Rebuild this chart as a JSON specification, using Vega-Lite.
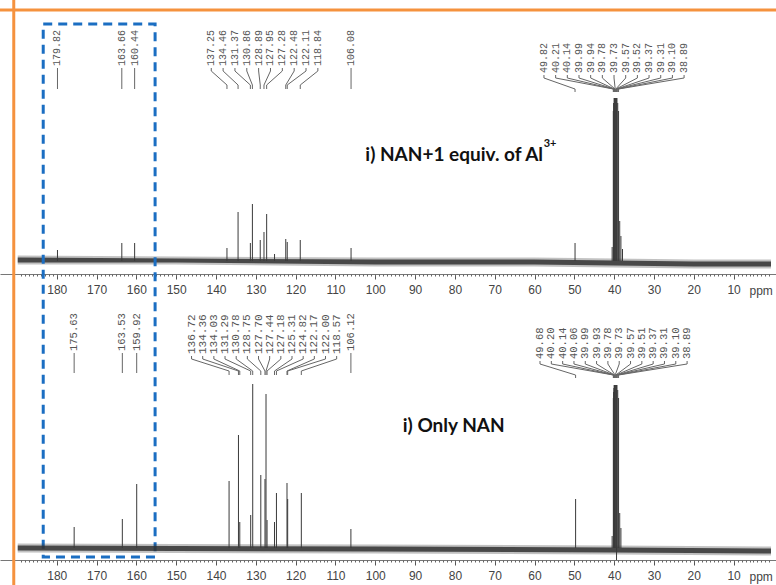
{
"$schema": "https://vega.github.io/schema/vega-lite/v6.json",
"width": 776, "height": 585, "padding": 0, "autosize": {"type": "none"},
"background": "white",
"config": {"view": {"stroke": null}},
"datasets": {
 "top": [
  {"ppm":179.82,"h":11,"g":"s"},{"ppm":163.66,"h":18,"g":"s"},{"ppm":160.44,"h":18,"g":"s"},
  {"ppm":137.25,"h":13,"g":"a"},{"ppm":134.46,"h":49,"g":"a"},{"ppm":131.37,"h":18,"g":"a"},{"ppm":130.86,"h":57,"g":"a"},
  {"ppm":128.89,"h":21,"g":"a"},{"ppm":127.95,"h":29,"g":"a"},{"ppm":127.28,"h":47,"g":"a"},{"ppm":122.48,"h":22,"g":"a"},
  {"ppm":122.11,"h":19,"g":"a"},{"ppm":118.84,"h":21,"g":"a"},{"ppm":106.08,"h":13,"g":"s"},
  {"ppm":49.82,"h":18,"g":"d"},{"ppm":40.21,"h":150,"g":"d"},{"ppm":40.14,"h":158,"g":"d"},{"ppm":39.99,"h":163,"g":"d"},
  {"ppm":39.94,"h":163,"g":"d"},{"ppm":39.78,"h":163,"g":"d"},{"ppm":39.73,"h":163,"g":"d"},{"ppm":39.57,"h":163,"g":"d"},
  {"ppm":39.52,"h":163,"g":"d"},{"ppm":39.37,"h":163,"g":"d"},{"ppm":39.31,"h":163,"g":"d"},{"ppm":39.10,"h":158,"g":"d"},
  {"ppm":38.89,"h":150,"g":"d"},
  {"ppm":125.3,"h":7,"g":"n"},{"ppm":40.5,"h":14,"g":"n"},{"ppm":38.6,"h":40,"g":"n"},{"ppm":38.3,"h":25,"g":"n"},{"ppm":37.9,"h":12,"g":"n"}
 ],
 "bot": [
  {"ppm":175.63,"h":21,"g":"s"},{"ppm":163.53,"h":29,"g":"s"},{"ppm":159.92,"h":64,"g":"s"},
  {"ppm":136.72,"h":67,"g":"a"},{"ppm":134.36,"h":113,"g":"a"},{"ppm":134.03,"h":26,"g":"a"},{"ppm":131.29,"h":33,"g":"a"},
  {"ppm":130.78,"h":164,"g":"a"},{"ppm":128.75,"h":73,"g":"a"},{"ppm":127.70,"h":69,"g":"a"},{"ppm":127.44,"h":154,"g":"a"},
  {"ppm":127.18,"h":28,"g":"a"},{"ppm":125.31,"h":26,"g":"a"},{"ppm":124.82,"h":55,"g":"a"},{"ppm":122.17,"h":65,"g":"a"},
  {"ppm":122.00,"h":49,"g":"a"},{"ppm":118.57,"h":55,"g":"a"},{"ppm":106.12,"h":19,"g":"s"},
  {"ppm":49.68,"h":49,"g":"d"},{"ppm":40.20,"h":150,"g":"d"},{"ppm":40.14,"h":156,"g":"d"},{"ppm":40.06,"h":160,"g":"d"},
  {"ppm":39.99,"h":163,"g":"d"},{"ppm":39.93,"h":163,"g":"d"},{"ppm":39.78,"h":163,"g":"d"},{"ppm":39.73,"h":163,"g":"d"},
  {"ppm":39.57,"h":163,"g":"d"},{"ppm":39.51,"h":163,"g":"d"},{"ppm":39.37,"h":163,"g":"d"},{"ppm":39.31,"h":163,"g":"d"},
  {"ppm":39.10,"h":158,"g":"d"},{"ppm":38.89,"h":150,"g":"d"},
  {"ppm":39.4,"h":-12,"g":"n"},{"ppm":40.5,"h":12,"g":"n"},{"ppm":38.6,"h":35,"g":"n"},{"ppm":38.3,"h":20,"g":"n"}
 ],
 "noiseTop": [
  {"ppm":189.8,"lo":-1.5,"hi":3.5,"lo2":-3.5,"hi2":5.5},{"ppm":150,"lo":-1.5,"hi":2.5,"lo2":-3.5,"hi2":4.5},
  {"ppm":100,"lo":-3.5,"hi":1.5,"lo2":-5.5,"hi2":3.5},{"ppm":60,"lo":-3.5,"hi":1.5,"lo2":-5.5,"hi2":3.5},
  {"ppm":20,"lo":-5.5,"hi":-0.5,"lo2":-7.5,"hi2":1.5},{"ppm":0.6,"lo":-5.5,"hi":-0.5,"lo2":-7.5,"hi2":1.5}
 ],
 "noiseBot": [
  {"ppm":189.8,"lo":-2.5,"hi":2.5,"lo2":-4.5,"hi2":4.5},{"ppm":100,"lo":-3.5,"hi":1.5,"lo2":-5.5,"hi2":3.5},
  {"ppm":40,"lo":-4.5,"hi":0.5,"lo2":-6.5,"hi2":2.5},{"ppm":0.6,"lo":-5.5,"hi":-0.5,"lo2":-7.5,"hi2":1.5}
 ],
 "box": [{"from":183.4,"to":155.3,"top":237,"bottom":-296}]
},
"layer": [
 {"resolve": {"axis": {"x": "independent"}},
  "layer": [
  {"data": {"name": "noiseTop"}, "mark": {"type": "area", "color": "#333", "opacity": 0.3},
   "encoding": {
    "x": {"field": "ppm", "type": "quantitative", "scale": {"domain": [0.6, 193], "reverse": true, "nice": false, "zero": false},
      "axis": {"orient": "bottom", "offset": -311, "domain": true, "domainColor": "#777", "grid": false,
        "values": [10,20,30,40,50,60,70,80,90,100,110,120,130,140,150,160,170,180],
        "tickSize": 5, "tickColor": "#555",
        "labelOverlap": false, "labelFlush": false, "labelBound": false,
        "labelFont": "Liberation Sans", "labelFontSize": 12, "labelColor": "#444", "labelPadding": 10, "labelBaseline": "middle",
        "title": "ppm", "titleX": 749, "titleY": 16, "titleAlign": "left", "titleBaseline": "middle", "titleAngle": 0,
        "titleFont": "Liberation Sans", "titleFontSize": 12, "titleFontWeight": "normal", "titleColor": "#444"}},
    "y": {"field": "lo2", "type": "quantitative", "scale": {"domain": [-324, 261], "nice": false, "zero": false}, "axis": null},
    "y2": {"field": "hi2"}}},
  {"data": {"name": "noiseTop"}, "mark": {"type": "area", "color": "#333", "opacity": 0.85},
   "encoding": {
    "x": {"field": "ppm", "type": "quantitative", "scale": {"domain": [0.6, 193], "reverse": true, "nice": false, "zero": false},
      "axis": {"orient": "bottom", "offset": -311, "domain": false, "grid": false, "labels": false, "title": null,
        "values": [1,2,3,4,5,6,7,8,9,10,11,12,13,14,15,16,17,18,19,20,21,22,23,24,25,26,27,28,29,30,31,32,33,34,35,36,37,38,39,40,41,42,43,44,45,46,47,48,49,50,51,52,53,54,55,56,57,58,59,60,61,62,63,64,65,66,67,68,69,70,71,72,73,74,75,76,77,78,79,80,81,82,83,84,85,86,87,88,89,90,91,92,93,94,95,96,97,98,99,100,101,102,103,104,105,106,107,108,109,110,111,112,113,114,115,116,117,118,119,120,121,122,123,124,125,126,127,128,129,130,131,132,133,134,135,136,137,138,139,140,141,142,143,144,145,146,147,148,149,150,151,152,153,154,155,156,157,158,159,160,161,162,163,164,165,166,167,168,169,170,171,172,173,174,175,176,177,178,179,180,181,182,183,184,185,186,187,188,189],
        "tickSize": 2, "tickColor": "#666"}},
    "y": {"field": "lo", "type": "quantitative", "scale": {"domain": [-324, 261], "nice": false, "zero": false}, "axis": null},
    "y2": {"field": "hi"}}},
  {"data": {"name": "top"}, "mark": {"type": "bar", "color": "#3a3a3a", "width": 1, "orient": "vertical"},
   "encoding": {
    "x": {"field": "ppm", "type": "quantitative", "stack": null, "scale": {"domain": [0.6, 193], "reverse": true, "nice": false, "zero": false}, "axis": null},
    "y": {"field": "h", "type": "quantitative", "stack": null, "scale": {"domain": [-324, 261], "nice": false, "zero": false}, "axis": null}}},
  {"data": {"name": "top"},
   "transform": [
    {"filter": "datum.g !== 'n'"},
    {"window": [{"op": "row_number", "as": "idx"}], "groupby": ["g"], "sort": [{"field": "ppm", "order": "descending"}]},
    {"calculate": "datum.g === 'a' ? 144.17 - datum.idx * 2.9755 : datum.g === 'd' ? 60.56 - datum.idx * 2.933 : datum.ppm", "as": "lx"},
    {"calculate": "datum.g === 'd' ? 188 : 195", "as": "t"},
    {"calculate": "datum.g === 'd' ? 186 : 193", "as": "ya"},
    {"calculate": "datum.g === 'd' ? 183 : 190", "as": "yb"},
    {"calculate": "datum.g === 'd' ? 172 : 176", "as": "yc"},
    {"calculate": "datum.g === 'd' ? 169 : 172", "as": "yd"}
   ],
   "layer": [
    {"mark": {"type": "text", "angle": 270, "align": "left", "baseline": "middle", "font": "Liberation Mono", "fontSize": 10, "color": "#555"},
     "encoding": {
      "x": {"field": "lx", "type": "quantitative", "scale": {"domain": [0.6, 193], "reverse": true, "nice": false, "zero": false}, "axis": null},
      "y": {"field": "t", "type": "quantitative", "scale": {"domain": [-324, 261], "nice": false, "zero": false}, "axis": null},
      "text": {"field": "ppm", "type": "quantitative", "format": ".2f"}}},
    {"mark": {"type": "rule", "color": "#666", "strokeWidth": 1},
     "encoding": {
      "x": {"field": "lx", "type": "quantitative", "scale": {"domain": [0.6, 193], "reverse": true, "nice": false, "zero": false}, "axis": null},
      "y": {"field": "ya", "type": "quantitative", "scale": {"domain": [-324, 261], "nice": false, "zero": false}, "axis": null},
      "y2": {"field": "yb"}}},
    {"mark": {"type": "rule", "color": "#666", "strokeWidth": 1},
     "encoding": {
      "x": {"field": "lx", "type": "quantitative", "scale": {"domain": [0.6, 193], "reverse": true, "nice": false, "zero": false}, "axis": null},
      "x2": {"field": "ppm"},
      "y": {"field": "yb", "type": "quantitative", "scale": {"domain": [-324, 261], "nice": false, "zero": false}, "axis": null},
      "y2": {"field": "yc"}}},
    {"mark": {"type": "rule", "color": "#666", "strokeWidth": 1},
     "encoding": {
      "x": {"field": "ppm", "type": "quantitative", "scale": {"domain": [0.6, 193], "reverse": true, "nice": false, "zero": false}, "axis": null},
      "y": {"field": "yc", "type": "quantitative", "scale": {"domain": [-324, 261], "nice": false, "zero": false}, "axis": null},
      "y2": {"field": "yd"}}}
   ]},
  {"data": {"values": [{}]}, "mark": {"type": "text", "font": "Lato", "fontWeight": "bold", "fontSize": 19, "align": "left", "baseline": "middle", "color": "#111"},
   "encoding": {
    "x": {"datum": 102.5, "type": "quantitative", "scale": {"domain": [0.6, 193], "reverse": true, "nice": false, "zero": false}, "axis": null},
    "y": {"datum": 106, "type": "quantitative", "scale": {"domain": [-324, 261], "nice": false, "zero": false}, "axis": null},
    "text": {"value": "i) NAN+1 equiv. of Al"}}},
  {"data": {"values": [{}]}, "mark": {"type": "text", "font": "Lato", "fontWeight": "bold", "fontSize": 11, "align": "left", "baseline": "middle", "color": "#111"},
   "encoding": {
    "x": {"datum": 57.7, "type": "quantitative", "scale": {"domain": [0.6, 193], "reverse": true, "nice": false, "zero": false}, "axis": null},
    "y": {"datum": 117, "type": "quantitative", "scale": {"domain": [-324, 261], "nice": false, "zero": false}, "axis": null},
    "text": {"value": "3+"}}},
  {"data": {"values": [{}]}, "mark": {"type": "rule", "color": "#f5923e", "strokeWidth": 3},
   "encoding": {
    "y": {"datum": 251, "type": "quantitative", "scale": {"domain": [-324, 261], "nice": false, "zero": false}, "axis": null}}},
  {"data": {"values": [{}]}, "mark": {"type": "rule", "color": "#f5923e", "strokeWidth": 3},
   "encoding": {
    "x": {"datum": 190.8, "type": "quantitative", "scale": {"domain": [0.6, 193], "reverse": true, "nice": false, "zero": false}, "axis": null}}},
  {"data": {"name": "box"}, "mark": {"type": "rect", "fillOpacity": 0, "stroke": "#1b6ec2", "strokeWidth": 3, "strokeDash": [9, 6]},
   "encoding": {
    "x": {"field": "from", "type": "quantitative", "scale": {"domain": [0.6, 193], "reverse": true, "nice": false, "zero": false}, "axis": null},
    "x2": {"field": "to"},
    "y": {"field": "top", "type": "quantitative", "scale": {"domain": [-324, 261], "nice": false, "zero": false}, "axis": null},
    "y2": {"field": "bottom"}}}
 ]},
 {"resolve": {"axis": {"x": "independent"}},
  "layer": [
  {"data": {"name": "noiseBot"}, "mark": {"type": "area", "color": "#333", "opacity": 0.3},
   "encoding": {
    "x": {"field": "ppm", "type": "quantitative", "scale": {"domain": [0.6, 193], "reverse": true, "nice": false, "zero": false},
      "axis": {"orient": "bottom", "offset": -25, "domain": true, "domainColor": "#777", "grid": false,
        "values": [10,20,30,40,50,60,70,80,90,100,110,120,130,140,150,160,170,180],
        "tickSize": 5, "tickColor": "#555",
        "labelOverlap": false, "labelFlush": false, "labelBound": false,
        "labelFont": "Liberation Sans", "labelFontSize": 12, "labelColor": "#444", "labelPadding": 10, "labelBaseline": "middle",
        "title": "ppm", "titleX": 749, "titleY": 16, "titleAlign": "left", "titleBaseline": "middle", "titleAngle": 0,
        "titleFont": "Liberation Sans", "titleFontSize": 12, "titleFontWeight": "normal", "titleColor": "#444"}},
    "y": {"field": "lo2", "type": "quantitative", "scale": {"domain": [-37, 548], "nice": false, "zero": false}, "axis": null},
    "y2": {"field": "hi2"}}},
  {"data": {"name": "noiseBot"}, "mark": {"type": "area", "color": "#333", "opacity": 0.85},
   "encoding": {
    "x": {"field": "ppm", "type": "quantitative", "scale": {"domain": [0.6, 193], "reverse": true, "nice": false, "zero": false},
      "axis": {"orient": "bottom", "offset": -25, "domain": false, "grid": false, "labels": false, "title": null,
        "values": [1,2,3,4,5,6,7,8,9,10,11,12,13,14,15,16,17,18,19,20,21,22,23,24,25,26,27,28,29,30,31,32,33,34,35,36,37,38,39,40,41,42,43,44,45,46,47,48,49,50,51,52,53,54,55,56,57,58,59,60,61,62,63,64,65,66,67,68,69,70,71,72,73,74,75,76,77,78,79,80,81,82,83,84,85,86,87,88,89,90,91,92,93,94,95,96,97,98,99,100,101,102,103,104,105,106,107,108,109,110,111,112,113,114,115,116,117,118,119,120,121,122,123,124,125,126,127,128,129,130,131,132,133,134,135,136,137,138,139,140,141,142,143,144,145,146,147,148,149,150,151,152,153,154,155,156,157,158,159,160,161,162,163,164,165,166,167,168,169,170,171,172,173,174,175,176,177,178,179,180,181,182,183,184,185,186,187,188,189],
        "tickSize": 2, "tickColor": "#666"}},
    "y": {"field": "lo", "type": "quantitative", "scale": {"domain": [-37, 548], "nice": false, "zero": false}, "axis": null},
    "y2": {"field": "hi"}}},
  {"data": {"name": "bot"}, "mark": {"type": "bar", "color": "#3a3a3a", "width": 1, "orient": "vertical"},
   "encoding": {
    "x": {"field": "ppm", "type": "quantitative", "stack": null, "scale": {"domain": [0.6, 193], "reverse": true, "nice": false, "zero": false}, "axis": null},
    "y": {"field": "h", "type": "quantitative", "stack": null, "scale": {"domain": [-37, 548], "nice": false, "zero": false}, "axis": null}}},
  {"data": {"name": "bot"},
   "transform": [
    {"filter": "datum.g !== 'n'"},
    {"window": [{"op": "row_number", "as": "idx"}], "groupby": ["g"], "sort": [{"field": "ppm", "order": "descending"}]},
    {"calculate": "datum.g === 'a' ? 148.95 - datum.idx * 2.804 : datum.g === 'd' ? 61.46 - datum.idx * 2.842 : datum.ppm", "as": "lx"},
    {"calculate": "datum.g === 'd' ? 189 : datum.g === 'a' ? 194 : 197", "as": "t"},
    {"calculate": "datum.g === 'd' ? 187 : datum.g === 'a' ? 192 : 195", "as": "ya"},
    {"calculate": "datum.g === 'd' ? 184 : datum.g === 'a' ? 189 : 191", "as": "yb"},
    {"calculate": "datum.g === 'd' ? 173 : datum.g === 'a' ? 177 : 180", "as": "yc"},
    {"calculate": "datum.g === 'd' ? 170 : datum.g === 'a' ? 173 : 175", "as": "yd"}
   ],
   "layer": [
    {"mark": {"type": "text", "angle": 270, "align": "left", "baseline": "middle", "font": "Liberation Mono", "color": "#555"},
     "encoding": {
      "x": {"field": "lx", "type": "quantitative", "scale": {"domain": [0.6, 193], "reverse": true, "nice": false, "zero": false}, "axis": null},
      "y": {"field": "t", "type": "quantitative", "scale": {"domain": [-37, 548], "nice": false, "zero": false}, "axis": null},
      "size": {"condition": {"test": "datum.g === 'a'", "value": 11}, "value": 10.5},
      "text": {"field": "ppm", "type": "quantitative", "format": ".2f"}}},
    {"mark": {"type": "rule", "color": "#666", "strokeWidth": 1},
     "encoding": {
      "x": {"field": "lx", "type": "quantitative", "scale": {"domain": [0.6, 193], "reverse": true, "nice": false, "zero": false}, "axis": null},
      "y": {"field": "ya", "type": "quantitative", "scale": {"domain": [-37, 548], "nice": false, "zero": false}, "axis": null},
      "y2": {"field": "yb"}}},
    {"mark": {"type": "rule", "color": "#666", "strokeWidth": 1},
     "encoding": {
      "x": {"field": "lx", "type": "quantitative", "scale": {"domain": [0.6, 193], "reverse": true, "nice": false, "zero": false}, "axis": null},
      "x2": {"field": "ppm"},
      "y": {"field": "yb", "type": "quantitative", "scale": {"domain": [-37, 548], "nice": false, "zero": false}, "axis": null},
      "y2": {"field": "yc"}}},
    {"mark": {"type": "rule", "color": "#666", "strokeWidth": 1},
     "encoding": {
      "x": {"field": "ppm", "type": "quantitative", "scale": {"domain": [0.6, 193], "reverse": true, "nice": false, "zero": false}, "axis": null},
      "y": {"field": "yc", "type": "quantitative", "scale": {"domain": [-37, 548], "nice": false, "zero": false}, "axis": null},
      "y2": {"field": "yd"}}}
   ]},
  {"data": {"values": [{}]}, "mark": {"type": "text", "font": "Lato", "fontWeight": "bold", "fontSize": 19, "align": "left", "baseline": "middle", "color": "#111"},
   "encoding": {
    "x": {"datum": 93.1, "type": "quantitative", "scale": {"domain": [0.6, 193], "reverse": true, "nice": false, "zero": false}, "axis": null},
    "y": {"datum": 122, "type": "quantitative", "scale": {"domain": [-37, 548], "nice": false, "zero": false}, "axis": null},
    "text": {"value": "i) Only NAN"}}}
 ]}
],
"resolve": {"scale": {"y": "independent"}, "axis": {"x": "independent", "y": "independent"}}
}
